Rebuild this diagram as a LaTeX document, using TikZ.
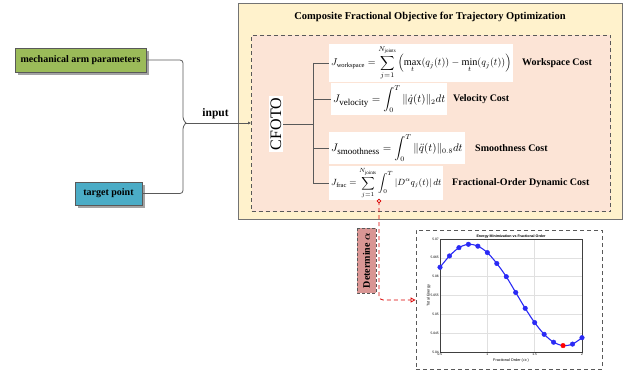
\documentclass[tikz,border=0pt]{standalone}
\usepackage{amsmath}
\usepackage{fontspec}
\setmainfont{Liberation Serif}
\newfontfamily\plotfont{Liberation Sans}
\usetikzlibrary{arrows.meta,shadows,calc}
\definecolor{armgreen}{HTML}{9BBB59}
\definecolor{tgtblue}{HTML}{4BACC6}
\definecolor{outerfill}{HTML}{FFF2CC}
\definecolor{innerfill}{HTML}{FCE4D6}
\definecolor{detpink}{HTML}{D99694}
\definecolor{linegray}{HTML}{595959}
\definecolor{plotblue}{HTML}{2A2AF5}
\newcommand{\subtxt}[2]{\text{\fontsize{#1}{#1}\selectfont #2}}
\tikzset{
  inbox/.style={draw=linegray, line width=0.8pt, font=\fontsize{10}{12}\selectfont\bfseries,
     drop shadow={shadow xshift=3pt, shadow yshift=-3pt, fill=black!45, opacity=0.8}, inner sep=0pt},
  conn/.style={draw=linegray, line width=0.8pt},
  formula/.style={fill=white, inner sep=2pt, anchor=west, font=\fontsize{10.5}{12}\selectfont},
  costlabel/.style={anchor=west, font=\fontsize{10}{12}\selectfont\bfseries, inner sep=0pt},
  reddash/.style={draw=red!85!black, line width=0.8pt, dash pattern=on 4pt off 3pt},
  tick/.style={font=\plotfont\fontsize{3.3}{4}\selectfont, inner sep=1pt},
  marker/.style={fill=plotblue, draw=plotblue, circle, inner sep=0pt, minimum size=4.6pt},
}
\begin{document}
\begin{tikzpicture}[x=1pt,y=-1pt]
\useasboundingbox (0,0) rectangle (636,374);
% outer and inner boxes
\node[draw=black!55, line width=0.8pt, fill=outerfill, minimum width=384pt, minimum height=216pt] (outer) at (430,111) {};
\node[font=\fontsize{10.5}{12}\selectfont\bfseries] (title) at (430,17) {Composite Fractional Objective for Trajectory Optimization};
\node[draw=linegray, line width=0.8pt, dash pattern=on 4pt off 3pt, fill=innerfill, minimum width=359pt, minimum height=176pt] (inner) at (431,123.5) {};
% inputs
\node[inbox, fill=armgreen, minimum width=131pt, minimum height=24pt] (arm) at (80.5,60) {mechanical arm parameters};
\node[inbox, fill=tgtblue, minimum width=67pt, minimum height=23pt] (tgt) at (108.5,193.5) {target point};
\coordinate (bx) at (183,123);
\coordinate (brace) at (186,123);
\draw[conn, rounded corners=3pt] (arm.east) -| ($(bx)+(0,-3)$) -- (brace);
\draw[conn, rounded corners=3pt] (tgt.east) -| ($(bx)+(0,3)$) -- (brace);
\draw[conn, -{Latex[length=3pt,width=3pt]}] (brace) -- (brace -| inner.west) node[midway, above=0pt, xshift=-3pt, font=\fontsize{11.5}{13}\selectfont\bfseries] (inlabel) {input};
% CFOTO
\node[fill=white, rotate=90, inner sep=1.5pt, font=\fontsize{16}{18}\selectfont] (cfoto) at (276,124) {CFOTO};
% formulas
\node[formula, font=\fontsize{10.2}{12}\selectfont] (f1) at (329,63) {$\displaystyle J_{\subtxt{6.5}{workspace}} = \sum_{j=1}^{N_{\subtxt{5}{joints}}} \left( \max_t (q_j(t)) - \min_t (q_j(t)) \right)$};
\node[formula] (f2) at (331,99) {$\displaystyle J_{\subtxt{9}{velocity}} = \int_0^T \|\dot{q}(t)\|_2 dt$};
\node[formula] (f3) at (329,148) {$\displaystyle J_{\subtxt{9}{smoothness}} = \int_0^T \|\ddot{q}(t)\|_{0.8} dt$};
\node[formula, font=\fontsize{9}{11}\selectfont] (f4) at (329,183) {$\displaystyle J_{\subtxt{6.5}{frac}} = \sum_{j=1}^{N_{\subtxt{5}{joints}}} \int_0^T |D^{\alpha} q_j(t)|\, dt$};
\node[costlabel] (c1) at (522,63) {Workspace Cost};
\node[costlabel] (c2) at (453,99) {Velocity Cost};
\node[costlabel] (c3) at (475,148) {Smoothness Cost};
\node[costlabel] (c4) at (452,183) {Fractional-Order Dynamic Cost};
% tree
\coordinate (tj) at (313,124);
\draw[conn] (cfoto.south) -- (tj);
\draw[conn] (f1.west -| tj) -- (f4.west -| tj);
\foreach \f in {f1,f2,f3,f4} \draw[conn] (\f.west -| tj) -- (\f.west);
% determine alpha
\node[draw=linegray, line width=0.8pt, dash pattern=on 3pt off 2pt, fill=detpink, rotate=90, minimum width=65pt, minimum height=19pt, inner sep=1pt, font=\fontsize{10}{12}\selectfont\bfseries] (det) at (366.5,260.5) {Determine $\boldsymbol{\alpha}$};
% plot frame
\node[draw=linegray, line width=0.8pt, dash pattern=on 4pt off 3pt, minimum width=186pt, minimum height=139pt] (plotbox) at (509,299.5) {};
% red connector
\coordinate (rs) at (379,201);
\draw[reddash, rounded corners=4pt, -{Triangle[open,length=5pt,width=5pt]}] (rs) |- (plotbox.west |- 0,300);
\draw[red!85!black, line width=0.7pt, fill=innerfill] (rs) circle (1.8pt);
% plot
\begin{scope}[shift={(440,352)}, x=94.667pt, y=3.7667pt]
  \foreach \v in {5,10,15,20,25} \draw[black!12, line width=0.4pt] (0,\v) -- (1.5,\v);
  \foreach \u in {0.5,1.0} \draw[black!12, line width=0.4pt] (\u,0) -- (\u,30);
  \draw[black!75, line width=0.5pt] (0,0) rectangle (1.5,30);
  \foreach \v/\l in {0/5.04,5/5.045,10/5.05,15/5.055,20/5.06,25/5.065,30/5.07}
     \node[tick, anchor=east] at (0,\v) {\l};
  \foreach \u/\l in {0/0.5,0.5/1,1.0/1.5,1.5/2}
     \node[tick, anchor=north] at (\u,0) {\l};
  \node[font=\plotfont\bfseries\fontsize{3.6}{4}\selectfont, anchor=south, inner sep=0.8pt] at (0.75,30) {Energy Minimization vs Fractional Order};
  \node[font=\plotfont\fontsize{3.8}{4}\selectfont, anchor=north, inner sep=0pt] at (0.75,-1.8) {Fractional Order ($\alpha$)};
  \node[font=\plotfont\fontsize{3.8}{4}\selectfont, rotate=90, anchor=south, inner sep=0pt] at (-0.1,15) {Total Energy};
  \draw[plotblue, line width=1.1pt] plot[smooth, tension=0.5] coordinates {
    (0,22.5) (0.1,25.5) (0.2,27.7) (0.3,28.6) (0.4,28.1) (0.5,26.4) (0.6,23.5) (0.7,20.0)
    (0.8,15.8) (0.9,11.6) (1.0,7.8) (1.1,4.7) (1.2,2.6) (1.3,1.7) (1.4,2.1) (1.5,3.8)};
  \foreach \u/\v in {0/22.5,0.1/25.5,0.2/27.7,0.3/28.6,0.4/28.1,0.5/26.4,0.6/23.5,0.7/20.0,
    0.8/15.8,0.9/11.6,1.0/7.8,1.1/4.7,1.2/2.6,1.4/2.1,1.5/3.8}
    \node[marker] at (\u,\v) {};
  \node[marker, fill=red, draw=red] at (1.3,1.7) {};
\end{scope}
\end{tikzpicture}
\end{document}
